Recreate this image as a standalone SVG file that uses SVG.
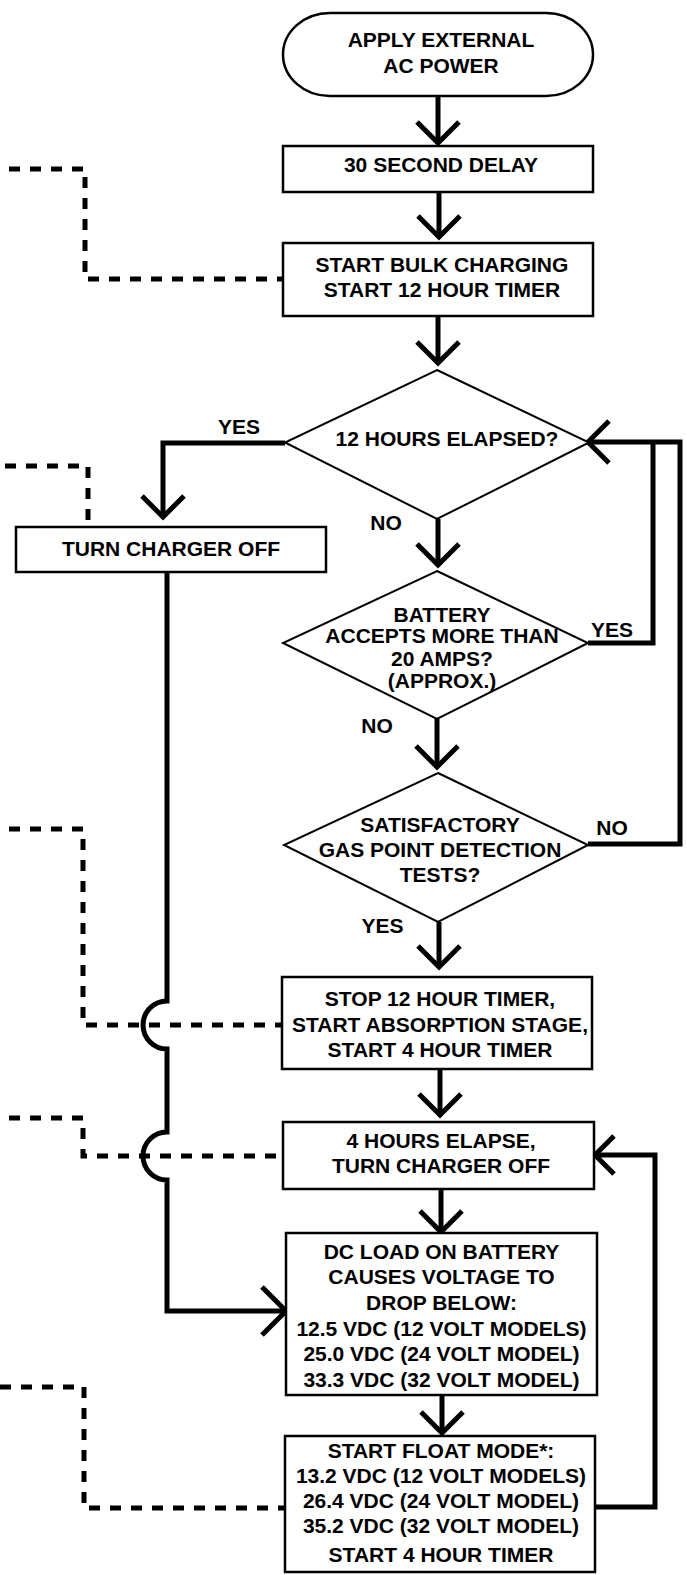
<svg xmlns="http://www.w3.org/2000/svg" width="687" height="1575" viewBox="0 0 687 1575">
<style>
.box{fill:#fff;stroke:#000;stroke-width:2.5}
.dia{fill:#fff;stroke:#000;stroke-width:2}
.t{font-family:"Liberation Sans",Arial,sans-serif;font-weight:bold;font-size:21px;fill:#000;text-anchor:middle}
.c{fill:none;stroke:#000;stroke-width:5;stroke-linejoin:miter}
.h{fill:none;stroke:#000;stroke-width:5;stroke-linecap:butt}
.d{fill:none;stroke:#000;stroke-width:5;stroke-dasharray:11 10}
</style>
<rect width="687" height="1575" fill="#fff"/>
<g id="connectors">
<path class="d" d="M9,169 H85 V279 H283"/>
<path class="d" d="M5,466 H88 V527"/>
<path class="d" d="M9,829 H83 V1025 H281"/>
<path class="d" d="M9,1118 H83 V1156 H283"/>
<path class="d" d="M0,1387 H84 V1508 H285"/>
<path class="c" d="M438,96 V143"/><path class="h" d="M417,122 L438,143 L459,122"/>
<path class="c" d="M439,192 V237"/><path class="h" d="M418,216 L439,237 L460,216"/>
<path class="c" d="M438,316 V363"/><path class="h" d="M417,342 L438,363 L459,342"/>
<path class="c" d="M438,519 V565"/><path class="h" d="M417,544 L438,565 L459,544"/>
<path class="c" d="M437,719 V767"/><path class="h" d="M416,746 L437,767 L458,746"/>
<path class="c" d="M439,922 V967"/><path class="h" d="M418,946 L439,967 L460,946"/>
<path class="c" d="M440,1069 V1115"/><path class="h" d="M419,1094 L440,1115 L461,1094"/>
<path class="c" d="M441,1189 V1232"/><path class="h" d="M420,1211 L441,1232 L462,1211"/>
<path class="c" d="M442,1395 V1433"/><path class="h" d="M421,1412 L442,1433 L463,1412"/>
<path class="c" d="M285,443 H163 V517"/><path class="h" d="M142,496 L163,517 L184,496"/>
<path class="c" d="M167,572 V1001 A24,24 0 0 0 167,1049 V1132 A24,24 0 0 0 167,1180 V1311 H286"/><path class="h" d="M262,1287 L286,1311 L262,1335"/>
<path class="c" d="M588,643 H653 V442"/>
<path class="c" d="M588,844 H680 V442 H590"/><path class="h" d="M609,421 L588,442 L609,463"/>
<path class="c" d="M595,1507 H655 V1155 H597"/><path class="h" d="M614,1136 L595,1155 L614,1174"/>
</g>
<g id="n1"><rect class="box" x="283" y="13" width="310" height="83" rx="47" ry="41.5"/><text class="t" x="441" y="47">APPLY EXTERNAL</text><text class="t" x="441" y="73">AC POWER</text></g>
<g id="n2"><rect class="box" x="283" y="146" width="310" height="46"/><text class="t" x="441" y="172">30 SECOND DELAY</text></g>
<g id="n3"><rect class="box" x="283" y="243" width="310" height="73"/><text class="t" x="442" y="272">START BULK CHARGING</text><text class="t" x="442" y="297">START 12 HOUR TIMER</text></g>
<g id="n4"><polygon class="dia" points="437,370 589,442.5 437,519 285,442.5"/><text class="t" x="447" y="446">12 HOURS ELAPSED?</text></g>
<g id="n5"><rect class="box" x="16" y="527" width="310" height="45"/><text class="t" x="171" y="556">TURN CHARGER OFF</text></g>
<g id="n6"><polygon class="dia" points="437,571 588,643 437,719 283,643"/><text class="t" x="442" y="622">BATTERY</text><text class="t" x="442" y="643">ACCEPTS MORE THAN</text><text class="t" x="442" y="666">20 AMPS?</text><text class="t" x="442" y="687.5">(APPROX.)</text></g>
<g id="n7"><polygon class="dia" points="438,773 588,845 438,922 284,845"/><text class="t" x="440" y="832">SATISFACTORY</text><text class="t" x="440" y="857">GAS POINT DETECTION</text><text class="t" x="440" y="881.5">TESTS?</text></g>
<g id="n8"><rect class="box" x="282" y="977" width="310" height="92"/><text class="t" x="440" y="1006">STOP 12 HOUR TIMER,</text><text class="t" x="440" y="1031.5">START ABSORPTION STAGE,</text><text class="t" x="440" y="1056.5">START 4 HOUR TIMER</text></g>
<g id="n9"><rect class="box" x="283" y="1122" width="311" height="67"/><text class="t" x="441" y="1148">4 HOURS ELAPSE,</text><text class="t" x="441" y="1173">TURN CHARGER OFF</text></g>
<g id="n10"><rect class="box" x="286" y="1233" width="311" height="162"/><text class="t" x="441.5" y="1259">DC LOAD ON BATTERY</text><text class="t" x="441.5" y="1284">CAUSES VOLTAGE TO</text><text class="t" x="441.5" y="1310">DROP BELOW:</text><text class="t" x="441.5" y="1335.5">12.5 VDC (12 VOLT MODELS)</text><text class="t" x="441.5" y="1361">25.0 VDC (24 VOLT MODEL)</text><text class="t" x="441.5" y="1386.5">33.3 VDC (32 VOLT MODEL)</text></g>
<g id="n11"><rect class="box" x="285" y="1436" width="310" height="136"/><text class="t" x="441" y="1458">START FLOAT MODE*:</text><text class="t" x="441" y="1483">13.2 VDC (12 VOLT MODELS)</text><text class="t" x="441" y="1508">26.4 VDC (24 VOLT MODEL)</text><text class="t" x="441" y="1533">35.2 VDC (32 VOLT MODEL)</text><text class="t" x="441" y="1562">START 4 HOUR TIMER</text></g>
<g id="labels">
<text class="t" x="239" y="434">YES</text>
<text class="t" x="386" y="530">NO</text>
<text class="t" x="612" y="637">YES</text>
<text class="t" x="377" y="732.5">NO</text>
<text class="t" x="612" y="835">NO</text>
<text class="t" x="382.5" y="932.5">YES</text>
</g>
</svg>
